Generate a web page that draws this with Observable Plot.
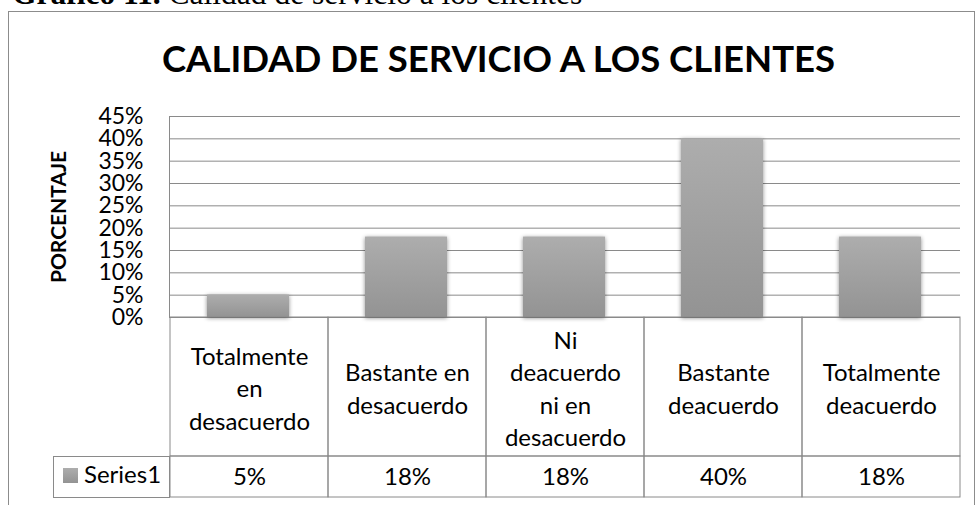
<!DOCTYPE html>
<html><head><meta charset="utf-8">
<script src="https://cdn.jsdelivr.net/npm/d3@7"></script>
<script src="https://cdn.jsdelivr.net/npm/@observablehq/plot@0.6"></script>
<style>
html,body{margin:0;padding:0;background:#fff;}
#wrap{position:relative;width:976px;height:505px;overflow:hidden;background:#fff;font-family:Lato,"Open Sans",sans-serif;color:#000;}
#wrap > *{position:absolute;}
.border{left:8px;top:11px;width:967px;height:600px;border:1px solid #8c8c8c;box-sizing:border-box;}
.caption{left:12px;top:-22px;font-family:"Liberation Serif","Times New Roman",serif;font-size:31.5px;line-height:31.5px;white-space:nowrap;}
.title{left:0;width:997px;top:39.5px;text-align:center;font-weight:bold;font-size:36.5px;line-height:36.5px;white-space:nowrap;}
.legend{left:53px;top:456px;width:117px;height:42px;border:1px solid #8a8a8a;box-sizing:border-box;}
.swatch{left:63px;top:468px;width:15px;height:15px;background:linear-gradient(#adadad,#939393);}
.legtext{left:84px;top:462px;font-size:24px;line-height:24px;white-space:nowrap;}
svg g[aria-label="bar"] rect{filter:drop-shadow(0 1px 2px rgba(0,0,0,.45));}
</style>
</head><body>
<div id="wrap"></div>
<script>
const captionBold = "Gráfico 11.";
const captionText = " Calidad de servicio a los clientes";
const title = "CALIDAD DE SERVICIO A LOS CLIENTES";
const yLabel = "PORCENTAJE";
const seriesName = "Series1";
const categories = ["Totalmente en desacuerdo","Bastante en desacuerdo","Ni deacuerdo ni en desacuerdo","Bastante deacuerdo","Totalmente deacuerdo"];
const categoryLabels = ["Totalmente\nen\ndesacuerdo","Bastante en\ndesacuerdo","Ni\ndeacuerdo\nni en\ndesacuerdo","Bastante\ndeacuerdo","Totalmente\ndeacuerdo"];
const values = [0.05, 0.18, 0.18, 0.40, 0.18];
const valueLabels = ["5%","18%","18%","40%","18%"];
const yTicks = [0,0.05,0.10,0.15,0.20,0.25,0.30,0.35,0.40,0.45];

const data = categories.map((c,i)=>({cat:c, value:values[i]}));
const wrap = document.getElementById("wrap");
const font = 'Lato, "Open Sans", sans-serif';

function add(cls){const d=document.createElement("div");d.className=cls;wrap.appendChild(d);return d;}
add("border");
const cap = add("caption"); const b=document.createElement("b"); b.textContent=captionBold; cap.appendChild(b); cap.appendChild(document.createTextNode(captionText));
add("title").textContent = title;

const chart = Plot.plot({
  width:976, height:318, marginLeft:169, marginRight:16, marginTop:116, marginBottom:1,
  x:{type:"band", domain:categories, paddingInner:0.48, paddingOuter:0.24, axis:null},
  y:{domain:[0,0.45], ticks:yTicks, tickFormat:d3.format(".0%"), tickSize:0, tickPadding:26, label:null},
  style:{fontFamily:font, fontSize:"23px", background:"transparent", overflow:"visible", color:"#000"},
  marks:[
    Plot.ruleY(yTicks,{stroke:"#8a8a8a", strokeWidth:1, strokeOpacity:1}),
    Plot.frame({anchor:"left", stroke:"#8a8a8a", strokeOpacity:1}),
    Plot.barY(data,{x:"cat", y:"value", fill:"url(#barGrad)"}),
    Plot.text([yLabel],{frameAnchor:"left", textAnchor:"middle", lineAnchor:"middle", dx:-110, rotate:-90, fontWeight:"bold", fontSize:21, fill:"#000"})
  ]
});
const defs = document.createElementNS("http://www.w3.org/2000/svg","defs");
defs.innerHTML = '<linearGradient id="barGrad" x1="0" y1="0" x2="0" y2="1"><stop offset="0" stop-color="#adadad"/><stop offset="1" stop-color="#939393"/></linearGradient>';
chart.prepend(defs);
chart.style.left="0px"; chart.style.top="0px";
wrap.appendChild(chart);

const rowCat = Plot.plot({
  width:976, height:140, marginLeft:169, marginRight:16, marginTop:0, marginBottom:1,
  x:{type:"band", domain:categories, padding:0, axis:null},
  style:{fontFamily:font, fontSize:"24px", background:"transparent", overflow:"visible", color:"#000"},
  marks:[
    Plot.cell(categories,{x:d=>d, fill:"none", stroke:"#8a8a8a", inset:0}),
    Plot.text(categories,{x:d=>d, text:(d,i)=>categoryLabels[i], frameAnchor:"middle", lineAnchor:"middle", lineHeight:1.36, fontSize:24, fill:"#000"})
  ]
});
rowCat.style.left="0px"; rowCat.style.top="317px";
wrap.appendChild(rowCat);

const rowVal = Plot.plot({
  width:976, height:42, marginLeft:169, marginRight:16, marginTop:0, marginBottom:1,
  x:{type:"band", domain:categories, padding:0, axis:null},
  style:{fontFamily:font, fontSize:"24px", background:"transparent", overflow:"visible", color:"#000"},
  marks:[
    Plot.cell(categories,{x:d=>d, fill:"none", stroke:"#8a8a8a", inset:0}),
    Plot.text(categories,{x:d=>d, text:(d,i)=>valueLabels[i], frameAnchor:"middle", fontSize:24, fill:"#000"})
  ]
});
rowVal.style.left="0px"; rowVal.style.top="456px";
wrap.appendChild(rowVal);

add("legend"); add("swatch"); add("legtext").textContent = seriesName;
</script>
</body></html>
